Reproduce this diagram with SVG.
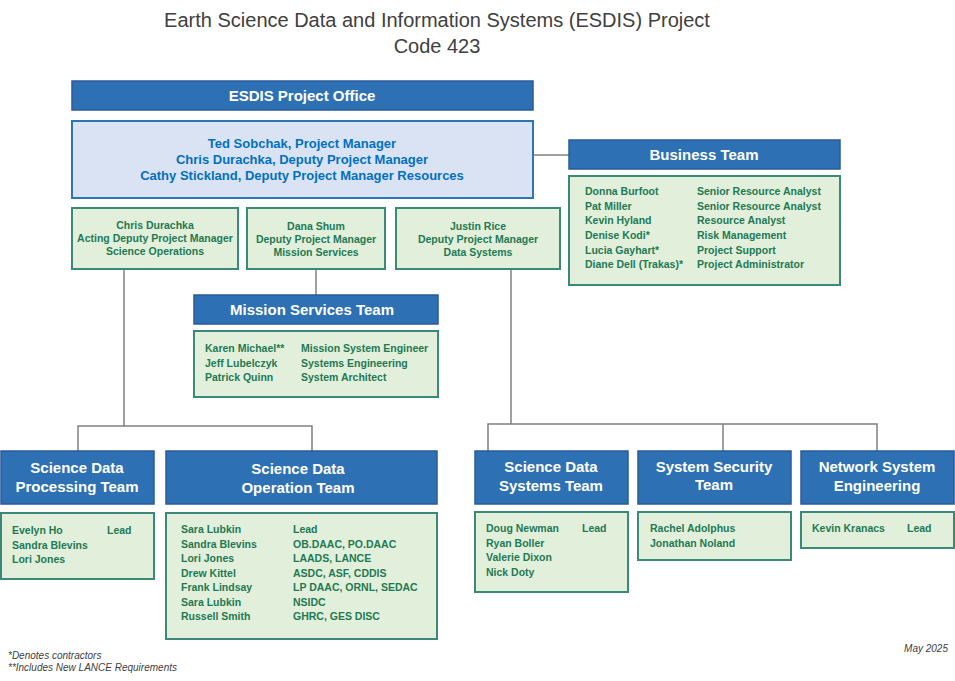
<svg xmlns="http://www.w3.org/2000/svg" width="955" height="681" viewBox="0 0 955 681">
<style>
text{font-family:"Liberation Sans",Arial,sans-serif}
.t{font-size:20px;fill:#404040;text-anchor:middle}
.hd{fill:#2e70b4;stroke:#2a5a9a;stroke-width:1.5}
.ht{fill:#fff;font-weight:bold;font-size:15px;text-anchor:middle}
.bx{fill:#e2efda;stroke:#3a8a7a;stroke-width:2}
.g{fill:#1e7a55;font-weight:bold;font-size:10.5px}
.gc{fill:#1e7a55;font-weight:bold;font-size:10.5px;text-anchor:middle}
.bl{fill:#0070c0;font-weight:bold;font-size:13px;text-anchor:middle}
.ln{stroke:#808080;stroke-width:1.5;fill:none}
.f{fill:#404040;font-size:10px;font-style:italic}
</style>
<rect width="955" height="681" fill="#fff"/>
<text class="t" x="437" y="27">Earth Science Data and Information Systems (ESDIS) Project</text>
<text class="t" x="437" y="53">Code 423</text>
<g id="connectors">
<path class="ln" d="M533 155H569"/>
<path class="ln" d="M316 269V295"/>
<path class="ln" d="M124 269V426M78 451V426H312V451"/>
<path class="ln" d="M511 269V424M488 451V424H877V451M723 424V451"/>
</g>
<g id="office"><rect class="hd" x="72" y="81" width="461" height="29"/><text class="ht" x="302" y="101">ESDIS Project Office</text></g>
<g id="managers"><rect x="72" y="121" width="461" height="77" fill="#dae3f3" stroke="#2e75b6" stroke-width="2"/>
<text class="bl" x="302" y="148">Ted Sobchak, Project Manager</text>
<text class="bl" x="302" y="164">Chris Durachka, Deputy Project Manager</text>
<text class="bl" x="302" y="180">Cathy Stickland, Deputy Project Manager Resources</text></g>
<g id="business"><rect class="hd" x="569" y="140" width="271" height="29"/><text class="ht" x="704" y="160">Business Team</text>
<rect class="bx" x="569" y="176" width="271" height="109"/>
<text class="g" x="585" y="195">Donna Burfoot</text><text class="g" x="697" y="195">Senior Resource Analyst</text>
<text class="g" x="585" y="210">Pat Miller</text><text class="g" x="697" y="210">Senior Resource Analyst</text>
<text class="g" x="585" y="224">Kevin Hyland</text><text class="g" x="697" y="224">Resource Analyst</text>
<text class="g" x="585" y="239">Denise Kodi*</text><text class="g" x="697" y="239">Risk Management</text>
<text class="g" x="585" y="254">Lucia Gayhart*</text><text class="g" x="697" y="254">Project Support</text>
<text class="g" x="585" y="268">Diane Dell (Trakas)*</text><text class="g" x="697" y="268">Project Administrator</text></g>
<g id="sciops"><rect class="bx" x="72" y="208" width="166" height="61"/>
<text class="gc" x="155" y="229">Chris Durachka</text><text class="gc" x="155" y="242">Acting Deputy Project Manager</text><text class="gc" x="155" y="255">Science Operations</text></g>
<g id="missionmgr"><rect class="bx" x="247" y="208" width="138" height="61"/>
<text class="gc" x="316" y="230">Dana Shum</text><text class="gc" x="316" y="243">Deputy Project Manager</text><text class="gc" x="316" y="256">Mission Services</text></g>
<g id="datamgr"><rect class="bx" x="396" y="208" width="164" height="61"/>
<text class="gc" x="478" y="230">Justin Rice</text><text class="gc" x="478" y="243">Deputy Project Manager</text><text class="gc" x="478" y="256">Data Systems</text></g>
<g id="mission"><rect class="hd" x="194" y="295" width="244" height="29"/><text class="ht" x="312" y="315">Mission Services Team</text>
<rect class="bx" x="194" y="331" width="244" height="66"/>
<text class="g" x="205" y="352">Karen Michael**</text><text class="g" x="301" y="352">Mission System Engineer</text>
<text class="g" x="205" y="367">Jeff Lubelczyk</text><text class="g" x="301" y="367">Systems Engineering</text>
<text class="g" x="205" y="381">Patrick Quinn</text><text class="g" x="301" y="381">System Architect</text></g>
<g id="sdp"><rect class="hd" x="1" y="451" width="153" height="53"/><text class="ht" x="77" y="473">Science Data</text><text class="ht" x="77" y="492">Processing Team</text>
<rect class="bx" x="1" y="513" width="153" height="66"/>
<text class="g" x="12" y="534">Evelyn Ho</text><text class="g" x="107" y="534">Lead</text>
<text class="g" x="12" y="549">Sandra Blevins</text><text class="g" x="12" y="563">Lori Jones</text></g>
<g id="sdo"><rect class="hd" x="166" y="451" width="271" height="53"/><text class="ht" x="298" y="474">Science Data</text><text class="ht" x="298" y="493">Operation Team</text>
<rect class="bx" x="166" y="513" width="271" height="126"/>
<text class="g" x="181" y="533">Sara Lubkin</text><text class="g" x="293" y="533">Lead</text>
<text class="g" x="181" y="548">Sandra Blevins</text><text class="g" x="293" y="548">OB.DAAC, PO.DAAC</text>
<text class="g" x="181" y="562">Lori Jones</text><text class="g" x="293" y="562">LAADS, LANCE</text>
<text class="g" x="181" y="577">Drew Kittel</text><text class="g" x="293" y="577">ASDC, ASF, CDDIS</text>
<text class="g" x="181" y="591">Frank Lindsay</text><text class="g" x="293" y="591">LP DAAC, ORNL, SEDAC</text>
<text class="g" x="181" y="606">Sara Lubkin</text><text class="g" x="293" y="606">NSIDC</text>
<text class="g" x="181" y="620">Russell Smith</text><text class="g" x="293" y="620">GHRC, GES DISC</text></g>
<g id="sds"><rect class="hd" x="475" y="451" width="153" height="53"/><text class="ht" x="551" y="472">Science Data</text><text class="ht" x="551" y="491">Systems Team</text>
<rect class="bx" x="475" y="512" width="153" height="80"/>
<text class="g" x="486" y="532">Doug Newman</text><text class="g" x="582" y="532">Lead</text>
<text class="g" x="486" y="547">Ryan Boller</text><text class="g" x="486" y="561">Valerie Dixon</text><text class="g" x="486" y="576">Nick Doty</text></g>
<g id="sst"><rect class="hd" x="638" y="451" width="153" height="53"/><text class="ht" x="714" y="472">System Security</text><text class="ht" x="714" y="490">Team</text>
<rect class="bx" x="638" y="512" width="153" height="48"/>
<text class="g" x="650" y="532">Rachel Adolphus</text><text class="g" x="650" y="547">Jonathan Noland</text></g>
<g id="nse"><rect class="hd" x="801" y="451" width="153" height="53"/><text class="ht" x="877" y="472">Network System</text><text class="ht" x="877" y="491">Engineering</text>
<rect class="bx" x="801" y="512" width="153" height="36"/>
<text class="g" x="812" y="532">Kevin Kranacs</text><text class="g" x="907" y="532">Lead</text></g>
<text class="f" x="8" y="659">*Denotes contractors</text>
<text class="f" x="8" y="671">**Includes New LANCE Requirements</text>
<text class="f" x="948" y="652" text-anchor="end">May 2025</text>
</svg>
